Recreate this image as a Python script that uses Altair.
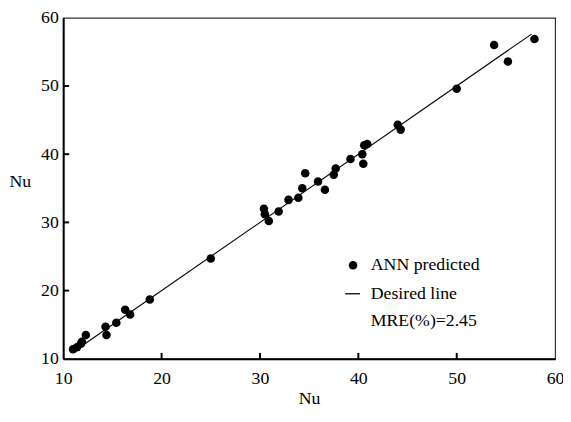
import altair as alt
import pandas as pd

nu_actual = [11.0, 11.4, 11.8, 11.9, 12.3, 14.3, 14.4, 15.4, 16.3, 16.8, 18.8, 25.0,
             30.4, 30.5, 30.9, 31.9, 32.9, 33.9, 34.3, 34.6, 35.9, 36.6, 37.5, 37.7,
             39.2, 40.4, 40.5, 40.6, 40.9, 44.0, 44.3, 50.0, 53.8, 55.2, 57.9]
nu_pred = [11.4, 11.7, 12.2, 12.5, 13.5, 14.7, 13.5, 15.3, 17.2, 16.5, 18.7, 24.7,
           32.0, 31.2, 30.2, 31.6, 33.3, 33.6, 35.0, 37.2, 36.0, 34.8, 37.0, 37.9,
           39.3, 40.0, 38.6, 41.3, 41.5, 44.3, 43.6, 49.6, 56.0, 53.6, 56.9]
line_x = [11.0, 57.6]
line_y = [11.0, 57.6]
x_ticks = [20, 30, 40, 50]
y_ticks = [20, 30, 40, 50]
legend_labels = ["ANN predicted", "Desired line", "MRE(%)=2.45"]

W, H = 499, 346
FONT = "Liberation Serif, Times New Roman, Times, serif"

pts = pd.DataFrame({"x": nu_actual, "y": nu_pred})
ln = pd.DataFrame({"x": line_x, "y": line_y})

xscale = alt.Scale(domain=[10, 60], nice=False, zero=False)
yscale = alt.Scale(domain=[10, 60], nice=False, zero=False)

xaxis = alt.Axis(title="Nu", values=[10, 20, 30, 40, 50, 60], ticks=False, tickSize=0,
                 grid=False, domainColor="black", domainWidth=2,
                 labelFont=FONT, labelFontSize=18, labelColor="black",
                 labelPadding=20, labelBaseline="middle", labelFlush=False,
                 titleFont=FONT, titleFontSize=18, titleFontWeight="normal",
                 titleColor="black", titleY=40, titleBaseline="middle")
yaxis = alt.Axis(title="Nu", values=[10, 20, 30, 40, 50, 60], ticks=False, tickSize=0,
                 grid=False, domainColor="black", domainWidth=2,
                 labelFont=FONT, labelFontSize=18, labelColor="black",
                 labelPadding=5, labelFlush=False,
                 titleFont=FONT, titleFontSize=18, titleFontWeight="normal",
                 titleColor="black", titleAngle=0, titleX=-44, titleY=166,
                 titleAlign="center", titleBaseline="middle")

line = alt.Chart(ln).mark_line(color="black", strokeWidth=1.1).encode(
    x=alt.X("x:Q", scale=xscale, axis=xaxis),
    y=alt.Y("y:Q", scale=yscale, axis=yaxis),
)

points = alt.Chart(pts).mark_circle(color="black", opacity=1, size=75).encode(
    x=alt.X("x:Q", scale=xscale),
    y=alt.Y("y:Q", scale=yscale),
)

xt = alt.Chart(pd.DataFrame({"v": x_ticks})).mark_rule(color="black", strokeWidth=2).encode(
    x=alt.X("v:Q", scale=xscale), y=alt.value(H), y2=alt.value(H - 6)
)
yt = alt.Chart(pd.DataFrame({"v": y_ticks})).mark_rule(color="black", strokeWidth=2).encode(
    y=alt.Y("v:Q", scale=yscale), x=alt.value(0), x2=alt.value(6)
)

leg_df = pd.DataFrame({"t": [legend_labels[0]]})
leg_pt = alt.Chart(leg_df).mark_circle(color="black", opacity=1, size=75).encode(
    x=alt.value(294), y=alt.value(251)
)
leg_rule = alt.Chart(leg_df).mark_rule(color="black", strokeWidth=1.3).encode(
    x=alt.value(286), x2=alt.value(301), y=alt.value(280)
)
leg_text = alt.Chart(pd.DataFrame({"t": legend_labels, "yy": [251, 280, 308]})).mark_text(
    align="left", baseline="middle", font=FONT, fontSize=18, color="black"
).encode(x=alt.value(312), y=alt.Y("yy:Q", scale=None), text="t:N")

chart = alt.layer(line, points, xt, yt, leg_pt, leg_rule, leg_text).properties(
    width=W, height=H,
    autosize=alt.AutoSizeParams(type="none"),
    padding={"left": 56, "top": 7, "right": 8, "bottom": 48},
    background="white",
).configure(font=FONT).configure_view(stroke="#333333", strokeWidth=1.2)

chart.save("out.html", embed_options={"renderer": "svg", "actions": False})
